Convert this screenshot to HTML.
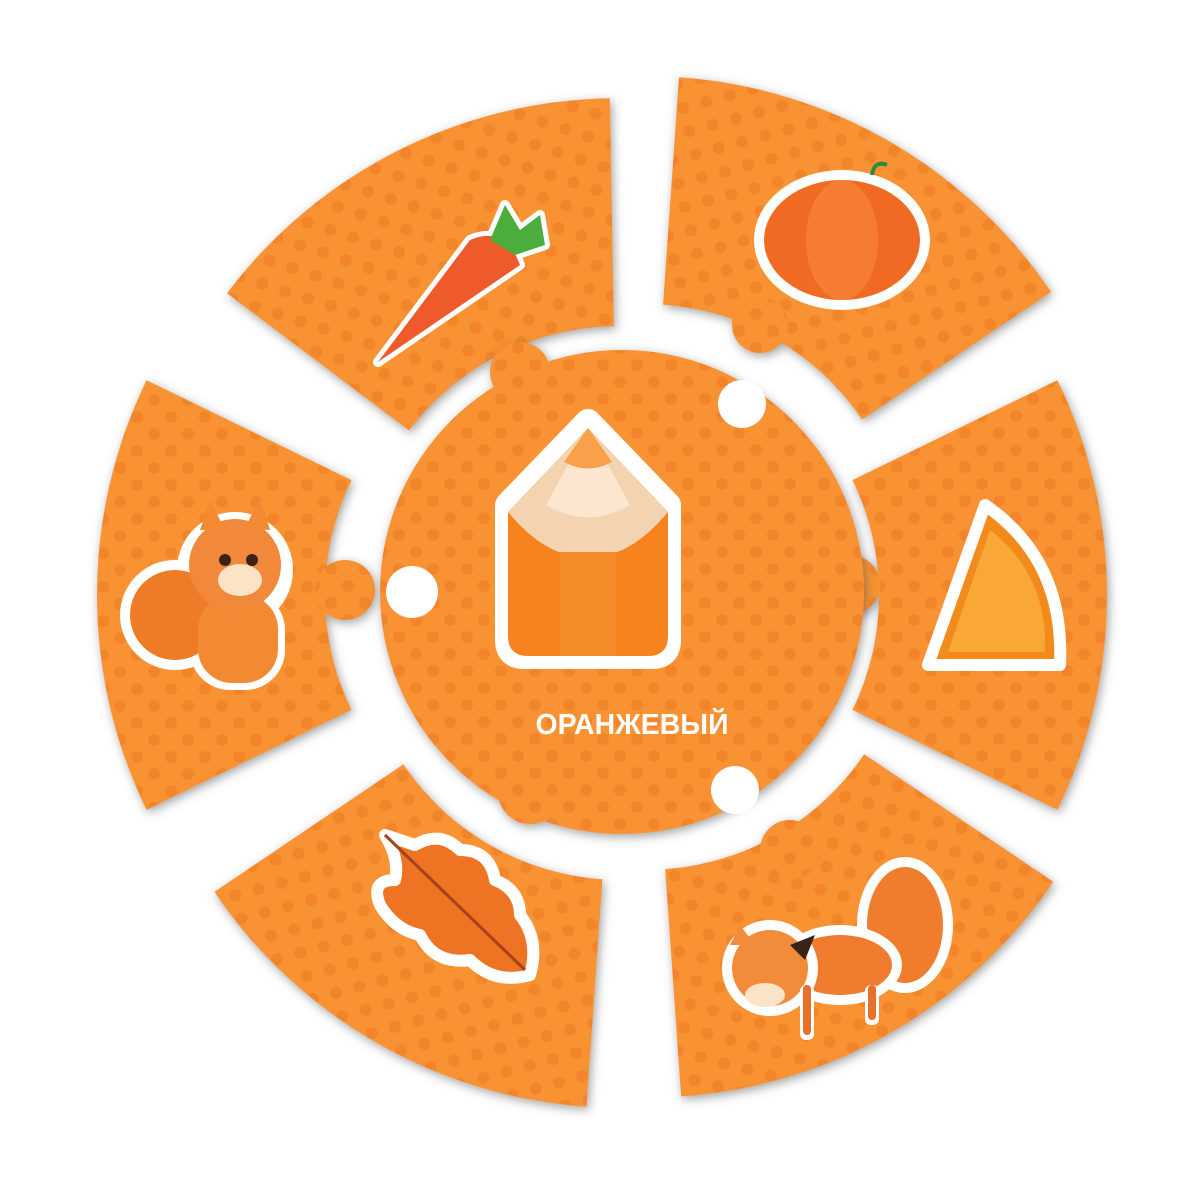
<!DOCTYPE html>
<html><head><meta charset="utf-8"><style>
html,body{margin:0;padding:0;background:#fff;width:1200px;height:1200px;overflow:hidden}
</style></head><body>
<svg width="1200" height="1200" viewBox="0 0 1200 1200" xmlns="http://www.w3.org/2000/svg">
<defs>
<pattern id="dots" width="34" height="34" patternUnits="userSpaceOnUse">
<rect width="34" height="34" fill="#F99230"/>
<circle cx="8" cy="8" r="6" fill="#F28529"/>
<circle cx="25" cy="25" r="6" fill="#F28529"/>
</pattern>
<filter id="sh" x="-10%" y="-10%" width="120%" height="120%">
<feDropShadow dx="2" dy="3" stdDeviation="5" flood-color="#555" flood-opacity="0.55"/>
</filter>
<path id="sec" d="M235.5,-114.9 L440.4,-214.8 A490,490 0 0 1 440.4,214.8 L235.5,114.9 A262,262 0 0 0 235.5,-114.9 Z"/>
</defs>
<g filter="url(#sh)">
<g transform="translate(605,595)">
<use href="#sec" fill="url(#dots)" transform="rotate(0) translate(12,0)"/>
<use href="#sec" fill="url(#dots)" transform="rotate(60) translate(32,-30)"/>
<use href="#sec" fill="url(#dots)" transform="rotate(120) translate(12,-25)"/>
<use href="#sec" fill="url(#dots)" transform="rotate(180) translate(18,0)"/>
<use href="#sec" fill="url(#dots)" transform="rotate(243) translate(0,15)"/>
<use href="#sec" fill="url(#dots)" transform="rotate(300) translate(45,20)"/>
</g>
<circle cx="345" cy="590" r="30" fill="url(#dots)"/>
<circle cx="850" cy="585" r="30" fill="url(#dots)"/>
<circle cx="760" cy="325" r="28" fill="url(#dots)"/>
<circle cx="790" cy="850" r="30" fill="url(#dots)"/>
</g>
<g filter="url(#sh)">
<circle cx="622" cy="592" r="242" fill="url(#dots)"/>
<circle cx="520" cy="372" r="30" fill="url(#dots)"/>
<circle cx="530" cy="792" r="32" fill="url(#dots)"/>
</g>
<circle cx="412" cy="592" r="26" fill="#fff"/>
<circle cx="742" cy="404" r="24" fill="#fff"/>
<circle cx="735" cy="790" r="24" fill="#fff"/>

<path d="M588,422 L668,505 L668,640 Q668,656 652,656 L524,656 Q508,656 508,640 L508,505 Z" fill="#fff" stroke="#fff" stroke-width="26" stroke-linejoin="round"/>
<path d="M588,428 L668,512 L668,636 Q668,656 648,656 L528,656 Q508,656 508,636 L508,512 Z" fill="#F7831F"/>
<path d="M588,428 L668,512 Q628,560 588,556 Q548,560 508,512 Z" fill="#F3D3B0"/>
<path d="M588,428 L630,505 Q588,530 546,505 Z" fill="#FCE6CF"/>
<path d="M588,428 L612,462 Q588,475 564,462 Z" fill="#F8A04A"/>
<rect x="560" y="552" width="56" height="104" fill="#F58C2A"/>
<text x="632" y="734" text-anchor="middle" font-family="Liberation Sans, sans-serif" font-weight="bold" font-size="29" fill="#fff" textLength="193" lengthAdjust="spacingAndGlyphs">ОРАНЖЕВЫЙ</text>

<g stroke="#fff" stroke-width="10" stroke-linejoin="round">
<path d="M378,362 L470,240 Q505,225 520,265 Z" fill="#EE5A2A"/>
<path d="M490,240 L505,205 L520,230 L540,215 L545,245 L515,255 Z" fill="#4BAE3C"/>
</g>
<path d="M378,362 L470,240 Q505,225 520,265 Z" fill="#EE5A2A"/>
<path d="M490,240 L505,205 L520,230 L540,215 L545,245 L515,255 Z" fill="#4BAE3C"/>

<ellipse cx="842" cy="240" rx="88" ry="70" fill="#fff"/>
<ellipse cx="842" cy="240" rx="78" ry="60" fill="#F06A24"/>
<ellipse cx="842" cy="240" rx="36" ry="60" fill="#F57C30"/>
<path d="M872,175 Q874,160 887,165" stroke="#2E8B3A" stroke-width="4" fill="none"/>

<path d="M928,665 L1060,665 Q1065,560 985,505 Z" fill="#F38A1C" stroke="#fff" stroke-width="12" stroke-linejoin="round"/>
<path d="M948,652 L1045,652 Q1048,575 990,530 Z" fill="#F9A836"/>

<circle cx="175" cy="615" r="55" fill="#fff"/>
<circle cx="235" cy="570" r="58" fill="#fff"/>
<rect x="190" y="590" width="95" height="100" rx="40" fill="#fff"/>
<circle cx="175" cy="615" r="45" fill="#EE7B25"/>
<rect x="198" y="595" width="80" height="88" rx="34" fill="#F18A33"/>
<circle cx="235" cy="565" r="46" fill="#F2893A"/>
<polygon points="200,530 210,500 225,530" fill="#F18A33"/>
<polygon points="245,528 260,498 270,530" fill="#F18A33"/>
<ellipse cx="240" cy="580" rx="22" ry="16" fill="#FBE3C8"/>
<circle cx="225" cy="560" r="6" fill="#3a2418"/><circle cx="252" cy="560" r="6" fill="#3a2418"/>

<path d="M385,835 Q400,860 395,880 Q370,880 380,905 Q395,930 420,935 Q435,965 470,960 Q495,985 530,975 Q540,940 520,915 Q520,890 495,880 Q490,850 460,850 Q440,830 415,845 Z" fill="#EE7322" stroke="#fff" stroke-width="12" stroke-linejoin="round"/>
<path d="M385,835 L525,970" stroke="#A8421A" stroke-width="3"/>

<ellipse cx="905" cy="925" rx="48" ry="68" fill="#fff"/>
<ellipse cx="905" cy="925" rx="38" ry="58" fill="#F07C2E"/>
<ellipse cx="840" cy="965" rx="62" ry="40" fill="#fff"/>
<ellipse cx="840" cy="965" rx="52" ry="30" fill="#EF7B2D"/>
<circle cx="770" cy="968" r="48" fill="#fff"/>
<circle cx="770" cy="968" r="38" fill="#F28B3A"/>
<polygon points="730,945 740,925 755,945" fill="#F28B3A"/>
<polygon points="790,945 815,935 805,960" fill="#3a2418"/>
<ellipse cx="765" cy="995" rx="20" ry="12" fill="#FBE3C8"/>
<rect x="800" y="985" width="14" height="55" rx="6" fill="#fff"/>
<rect x="803" y="985" width="8" height="50" rx="4" fill="#E8702A"/>
<rect x="865" y="985" width="14" height="40" rx="6" fill="#fff"/>
<rect x="868" y="985" width="8" height="35" rx="4" fill="#E8702A"/>
</svg>
</body></html>
